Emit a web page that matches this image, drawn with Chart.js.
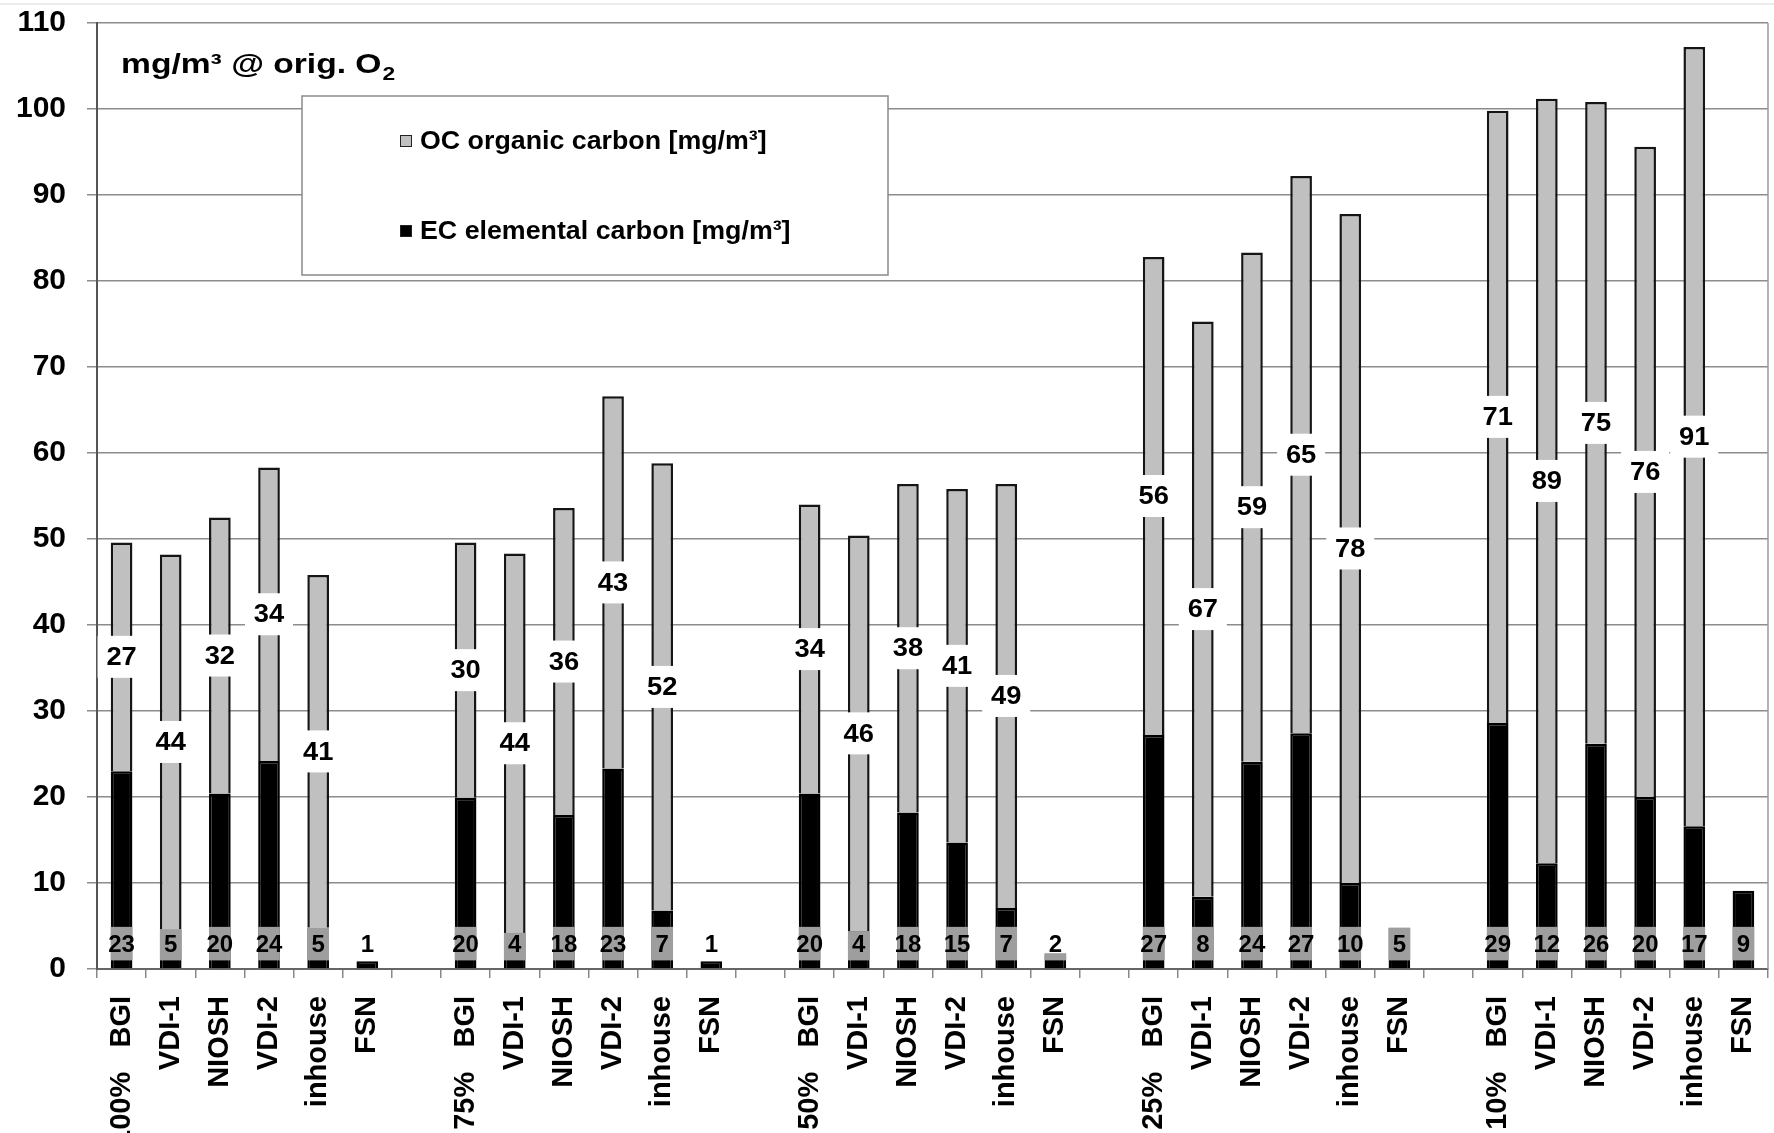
<!DOCTYPE html>
<html>
<head>
<meta charset="utf-8">
<script src="https://cdn.jsdelivr.net/npm/chart.js@4.4.0/dist/chart.umd.min.js"></script>
<style>
  html, body { margin: 0; padding: 0; background: #fff; }
  #wrap { width: 1774px; height: 1133px; position: relative; }
</style>
</head>
<body>
<div id="wrap"><canvas id="ecoc"></canvas></div>
<script>
// load levels and sampling methods
const loads = ['100%', '75%', '50%', '25%', '10%'];
const methods = ['BGI', 'VDI-1', 'NIOSH', 'VDI-2', 'inhouse', 'FSN'];

// EC elemental carbon [mg/m3], per load level, in method order
const ecValues = [
  23.0, 4.6, 20.4, 24.2, 4.8, 0.9,
  19.9, 4.2, 17.9, 23.3, 6.8, 0.9,
  20.4, 4.4, 18.2, 14.7, 7.1, 1.8,
  27.2, 8.4, 24.1, 27.4, 10.0, 4.8,
  28.6, 12.3, 26.2, 20.0, 16.6, 9.1
];
// OC organic carbon [mg/m3], FSN has none
const ocValues = [
  26.6, 43.6, 32.1, 34.1, 41.0, null,
  29.7, 44.1, 35.7, 43.3, 52.0, null,
  33.6, 46.0, 38.2, 41.1, 49.3, null,
  55.6, 66.9, 59.2, 64.8, 77.8, null,
  71.2, 88.9, 74.6, 75.6, 90.6, null
];
const yTicks = [0, 10, 20, 30, 40, 50, 60, 70, 80, 90, 100, 110];

const FONT = '"Liberation Sans", Arial, sans-serif';

// build the category slots, one empty slot between load groups
const labels = [], ecData = [], ocData = [];
loads.forEach((load, g) => {
  methods.forEach((m, j) => {
    labels.push(j === 0 ? load + '   ' + m : m);
    ecData.push(ecValues[g * methods.length + j]);
    ocData.push(ocValues[g * methods.length + j]);
  });
  if (g < loads.length - 1) {
    labels.push('');
    ecData.push(null);
    ocData.push(null);
  }
});

// text drawn a little wider than the font, like the stretched original
function wideText(ctx, txt, x, y, sx) {
  ctx.save();
  ctx.translate(x, y);
  ctx.scale(sx, 1);
  ctx.fillText(txt, 0, 0);
  ctx.restore();
  return ctx.measureText(txt).width * sx;
}

const barLabels = {
  id: 'barLabels',
  afterDatasetsDraw(chart) {
    const ctx = chart.ctx;
    const y = chart.scales.y;
    ctx.save();
    ctx.textAlign = 'center';
    ctx.textBaseline = 'middle';

    // OC values in white boxes in the middle of the segment
    const ocMeta = chart.getDatasetMeta(1);
    ocMeta.data.forEach((el, i) => {
      const v = chart.data.datasets[1].data[i];
      if (v == null || v <= 0) return;
      const cy = (el.y + el.base) / 2;
      ctx.fillStyle = '#fff';
      ctx.fillRect(el.x - 24, cy - 21, 48, 42);
      ctx.fillStyle = '#000';
      ctx.font = 'bold 26px ' + FONT;
      wideText(ctx, String(Math.round(v)), el.x, cy + 1, 1.05);
    });

    // EC values in grey boxes at the foot of the bar
    const ecMeta = chart.getDatasetMeta(0);
    const y1 = y.getPixelForValue(1);
    ecMeta.data.forEach((el, i) => {
      const v = chart.data.datasets[0].data[i];
      if (v == null) return;
      if (v > 1) {
        const top = y.getPixelForValue(Math.min(v, 4.9));
        ctx.fillStyle = '#9e9e9e';
        ctx.fillRect(el.x - el.width / 2, top, el.width, y1 - top);
      }
      ctx.fillStyle = '#000';
      ctx.font = 'bold 24px ' + FONT;
      wideText(ctx, String(Math.round(v)), el.x, y.getPixelForValue(2.85) + 1, 1.0);
    });
    ctx.restore();
  },
  afterDraw(chart) {
    const ctx = chart.ctx;
    const a = chart.chartArea;
    ctx.save();
    // faint frame line at the very top of the picture
    ctx.strokeStyle = '#ececec';
    ctx.lineWidth = 2;
    ctx.beginPath(); ctx.moveTo(0, 4); ctx.lineTo(chart.width, 4); ctx.stroke();
    // right edge of the plot area
    ctx.strokeStyle = '#9a9a9a';
    ctx.lineWidth = 1.5;
    ctx.beginPath(); ctx.moveTo(a.right, a.top); ctx.lineTo(a.right, a.bottom); ctx.stroke();

    // unit note
    ctx.fillStyle = '#000';
    ctx.textBaseline = 'alphabetic';
    ctx.textAlign = 'left';
    ctx.font = 'bold 28px ' + FONT;
    const w = wideText(ctx, 'mg/m\u00b3 @ orig. O', 121, 73, 1.2);
    ctx.font = 'bold 19px ' + FONT;
    wideText(ctx, '2', 121 + w + 1, 80, 1.2);

    // legend box
    const lx = 302, ly = 96, lw = 586, lh = 179;
    ctx.fillStyle = '#fff';
    ctx.fillRect(lx, ly, lw, lh);
    ctx.strokeStyle = '#8a8a8a';
    ctx.lineWidth = 1.5;
    ctx.strokeRect(lx, ly, lw, lh);
    const items = [chart.data.datasets[1], chart.data.datasets[0]];
    const rows = [141, 231];
    ctx.font = 'bold 26px ' + FONT;
    ctx.textBaseline = 'middle';
    items.forEach((ds, k) => {
      ctx.fillStyle = ds.backgroundColor;
      ctx.fillRect(400, rows[k] - 6, 12, 12);
      ctx.strokeStyle = '#222';
      ctx.lineWidth = 1;
      ctx.strokeRect(400.5, rows[k] - 5.5, 11, 11);
      ctx.fillStyle = '#000';
      wideText(ctx, ds.label, 420, rows[k] + 1, 1.03);
    });
    ctx.restore();
  }
};

new Chart(document.getElementById('ecoc'), {
  type: 'bar',
  data: {
    labels: labels,
    datasets: [{
      label: 'EC elemental carbon [mg/m\u00b3]',
      data: ecData,
      backgroundColor: '#000',
      borderColor: '#000',
      borderWidth: 2.5,
      barPercentage: 0.9,
      categoryPercentage: 0.49
    }, {
      label: 'OC organic carbon [mg/m\u00b3]',
      data: ocData,
      backgroundColor: '#c0c0c0',
      borderColor: '#151515',
      borderWidth: 2.5,
      barPercentage: 0.9,
      categoryPercentage: 0.49
    }]
  },
  options: {
    responsive: true,
    maintainAspectRatio: false,
    animation: false,
    layout: { padding: { top: 23, right: 6, left: 0, bottom: 0 } },
    plugins: {
      legend: { display: false },
      tooltip: { enabled: false }
    },
    scales: {
      x: {
        stacked: true,
        afterFit: (s) => { s.height = 164; s.paddingLeft = 0; s.paddingRight = 0; },
        grid: { drawOnChartArea: false, drawTicks: true, tickLength: 9, color: '#888', lineWidth: 1.5 },
        border: { color: '#666', width: 2 },
        ticks: {
          autoSkip: false,
          minRotation: 90,
          maxRotation: 90,
          padding: 18,
          color: '#000',
          font: { family: FONT, size: 29, weight: 'bold' }
        }
      },
      y: {
        stacked: true,
        min: 0,
        max: 110,
        afterFit: (s) => { s.width = 97; s.paddingTop = 0; s.paddingBottom = 0; },
        afterBuildTicks: (s) => { s.ticks = yTicks.map(v => ({ value: v })); },
        grid: { color: '#8c8c8c', lineWidth: 1.5, tickLength: 10 },
        border: { color: '#555', width: 2 },
        ticks: {
          padding: 21,
          color: '#000',
          font: { family: FONT, size: 30, weight: 'bold' }
        }
      }
    }
  },
  plugins: [barLabels]
});
</script>
</body>
</html>
